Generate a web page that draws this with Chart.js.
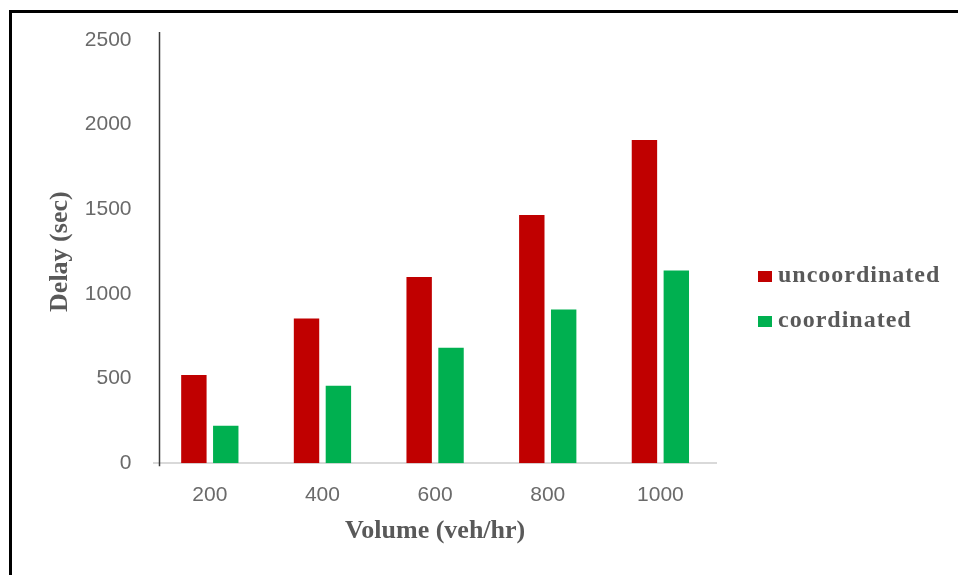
<!DOCTYPE html>
<html>
<head>
<meta charset="utf-8">
<script src="https://cdn.jsdelivr.net/npm/chart.js@4/dist/chart.umd.min.js"></script>
<style>
    body { margin: 0; background: #fff; overflow: hidden; }
    #wrap { position: relative; width: 958px; height: 575px; }
    #frame {
        position: absolute; left: 9px; top: 10px; width: 1000px; height: 1000px;
        border-top: 3px solid #000; border-left: 3px solid #000;
    }
    #chart { position: absolute; left: 0; top: 0; }
    #legend {
        position: absolute; left: 758px; top: 252px;
        font-family: "Liberation Serif", "Times New Roman", serif;
        font-weight: bold; font-size: 24px; letter-spacing: 1px; color: #595959;
    }
    .item { display: flex; align-items: center; height: 45px; }
    .box { width: 14px; height: 11px; margin-right: 6px; margin-top: 3px; }
</style>
</head>
<body>
<div id="wrap">
    <div id="frame"></div>
    <canvas id="chart" width="958" height="575"></canvas>
    <div id="legend"></div>
</div>
<script>
// data
const volumes = ['200', '400', '600', '800', '1000'];
const uncoordinated = [521, 855, 1100, 1466, 1910];
const coordinated = [222, 458, 682, 908, 1138];
const seriesNames = ['uncoordinated', 'coordinated'];
const seriesColors = ['#c00000', '#00b050'];
const yMax = 2500;
const yStep = 500;

const serif = '"Liberation Serif", "Times New Roman", serif';
const sans = '"Liberation Sans", Arial, sans-serif';

//vertical axis line sits a little inside the plot, like the original
const yAxisLine = {
    id: 'yAxisLine',
    afterDraw(chart) {
        const ctx = chart.ctx;
        const area = chart.chartArea;
        const x = area.left + 6;
        ctx.save();
        ctx.strokeStyle = '#3a3a3a';
        ctx.lineWidth = 1.5;
        ctx.beginPath();
        ctx.moveTo(x, chart.scales.y.getPixelForValue(yMax) - 8);
        ctx.lineTo(x, area.bottom + 3);
        ctx.stroke();
        ctx.restore();
    }
};

const ctx = document.getElementById('chart').getContext('2d');
const chart = new Chart(ctx, {
    type: 'bar',
    data: {
        labels: volumes,
        datasets: [
            {
                label: seriesNames[0],
                data: uncoordinated,
                backgroundColor: seriesColors[0],
                barPercentage: 0.797,
                categoryPercentage: 0.566
            }, {
                label: seriesNames[1],
                data: coordinated,
                backgroundColor: seriesColors[1],
                barPercentage: 0.797,
                categoryPercentage: 0.566
            }
        ]
    },
    options: {
        responsive: false,
        animation: false,
        layout: {
            padding: { left: 45, right: 241.3, top: 40, bottom: 28.4 }
        },
        plugins: {
            legend: { display: false },
            tooltip: { enabled: false }
        },
        scales: {
            x: {
                grid: { display: false, drawTicks: false },
                border: { display: true, color: '#d9d9d9', width: 2 },
                ticks: {
                    color: '#6a6a6a',
                    font: { family: sans, size: 21 },
                    padding: 19
                },
                title: {
                    display: true,
                    text: 'Volume (veh/hr)',
                    color: '#595959',
                    font: { family: serif, size: 26, weight: 'bold' },
                    padding: { top: 0, bottom: 0 }
                },
                afterFit(scale) { scale.height = 83.3; }
            },
            y: {
                min: 0,
                max: yMax,
                grid: { display: false, drawTicks: false },
                border: { display: false },
                ticks: {
                    stepSize: yStep,
                    color: '#6a6a6a',
                    font: { family: sans, size: 21 },
                    padding: 22,
                    callback: (value) => String(value)
                },
                title: {
                    display: true,
                    text: 'Delay (sec)',
                    color: '#595959',
                    font: { family: serif, size: 26, weight: 'bold' },
                    padding: { top: 0, bottom: 0 }
                },
                afterFit(scale) { scale.width = 108.5; }
            }
        }
    },
    plugins: [yAxisLine]
});

//legend from the same series lists
const legend = document.getElementById('legend');
seriesNames.forEach((name, i) => {
    const item = document.createElement('div');
    item.className = 'item';
    item.innerHTML = `<span class="box" style="background:${seriesColors[i]}"></span><span>${name}</span>`;
    legend.appendChild(item);
});
</script>
</body>
</html>
